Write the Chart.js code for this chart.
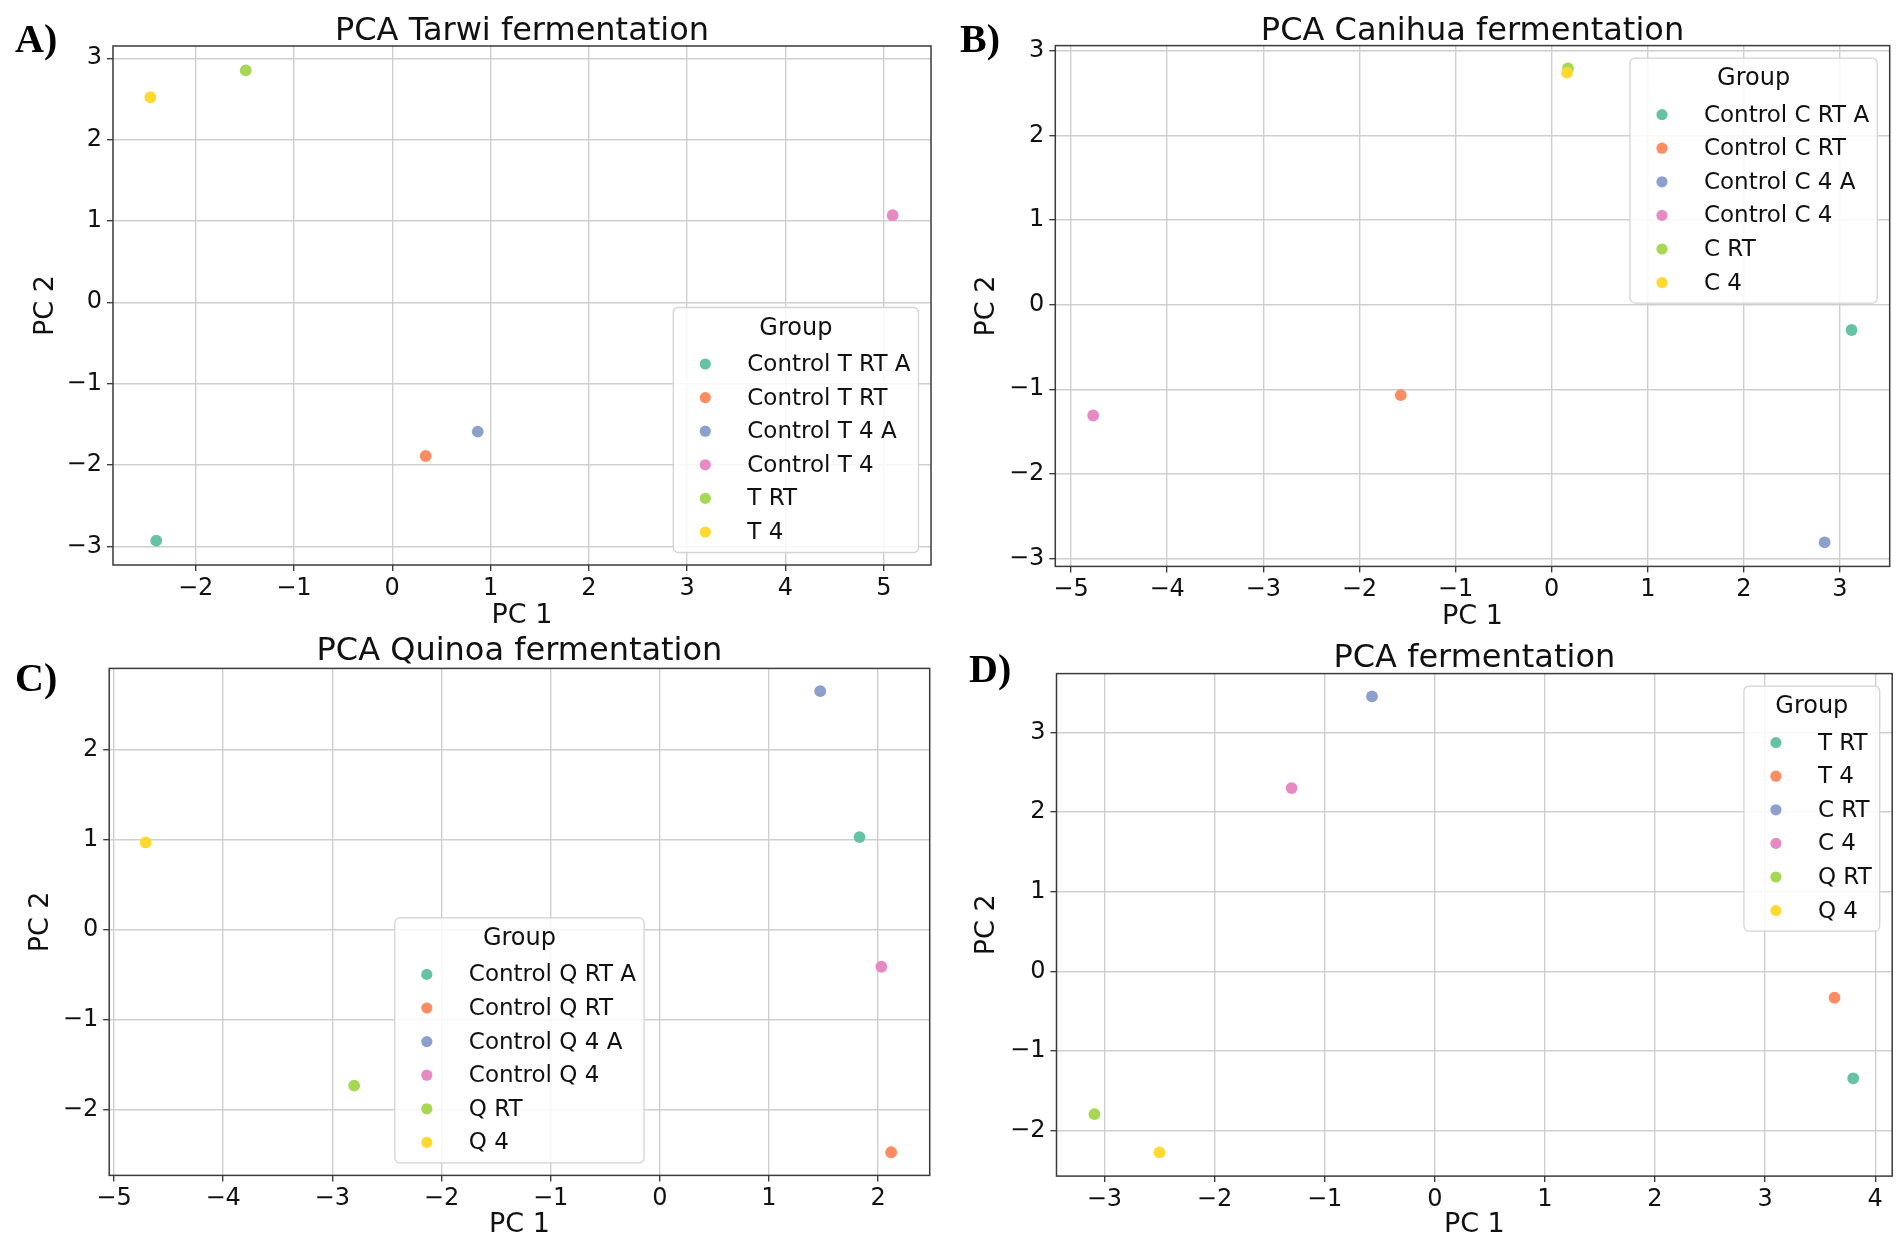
<!DOCTYPE html>
<html>
<head>
<meta charset="utf-8">
<title>PCA fermentation</title>
<script src="https://cdn.jsdelivr.net/npm/chart.js@4.4.0/dist/chart.umd.min.js"></script>
<style>
    html, body { margin: 0; padding: 0; background: #fff; }
    body { width: 1902px; height: 1244px; position: relative; overflow: hidden; }
    canvas { position: absolute; }
</style>
</head>
<body>
<canvas id="chart-a" width="951" height="640" style="left:0px;top:0px"></canvas>
<canvas id="chart-b" width="951" height="640" style="left:951px;top:0px"></canvas>
<canvas id="chart-c" width="951" height="622" style="left:0px;top:622px"></canvas>
<canvas id="chart-d" width="951" height="622" style="left:951px;top:622px"></canvas>
<script>
// Set2 palette
const groupColors = ['#66c2a5', '#fc8d62', '#8da0cb', '#e78ac3', '#a6d854', '#ffd92f'];

// A) Tarwi
const tarwiGroups = ['Control T RT A', 'Control T RT', 'Control T 4 A', 'Control T 4', 'T RT', 'T 4'];
const tarwiPC1 = [-2.40, 0.34, 0.87, 5.09, -1.49, -2.46];
const tarwiPC2 = [-2.93, -1.89, -1.59, 1.07, 2.85, 2.52];
const tarwiXTicks = [-2, -1, 0, 1, 2, 3, 4, 5];
const tarwiYTicks = [-3, -2, -1, 0, 1, 2, 3];

// B) Canihua
const canihuaGroups = ['Control C RT A', 'Control C RT', 'Control C 4 A', 'Control C 4', 'C RT', 'C 4'];
const canihuaPC1 = [3.12, -1.57, 2.84, -4.77, 0.17, 0.16];
const canihuaPC2 = [-0.30, -1.07, -2.81, -1.31, 2.79, 2.74];
const canihuaXTicks = [-5, -4, -3, -2, -1, 0, 1, 2, 3];
const canihuaYTicks = [-3, -2, -1, 0, 1, 2, 3];

// C) Quinoa
const quinoaGroups = ['Control Q RT A', 'Control Q RT', 'Control Q 4 A', 'Control Q 4', 'Q RT', 'Q 4'];
const quinoaPC1 = [1.83, 2.12, 1.47, 2.03, -2.80, -4.71];
const quinoaPC2 = [1.03, -2.47, 2.65, -0.41, -1.73, 0.97];
const quinoaXTicks = [-5, -4, -3, -2, -1, 0, 1, 2];
const quinoaYTicks = [-2, -1, 0, 1, 2];

// D) all fermentations
const allGroups = ['T RT', 'T 4', 'C RT', 'C 4', 'Q RT', 'Q 4'];
const allPC1 = [3.80, 3.63, -0.57, -1.30, -3.09, -2.50];
const allPC2 = [-1.34, -0.33, 3.45, 2.30, -1.79, -2.27];
const allXTicks = [-3, -2, -1, 0, 1, 2, 3, 4];
const allYTicks = [-2, -1, 0, 1, 2, 3];

const FONT = 'DejaVu Sans';
const TEXT = '#111';

// Format tick with a real minus sign like matplotlib
function fmtTick(v) {
    return String(v).replace('-', '\u2212');
}

// Draws frame, legend box, title and panel letter
const panelDecor = {
    id: 'panelDecor',
    afterDatasetsDraw(chart, args, opts) {
        const ctx = chart.ctx;
        const a = chart.chartArea;
        ctx.save();

        // frame on all four sides
        ctx.strokeStyle = '#3a3a3a';
        ctx.lineWidth = 1.5;
        ctx.strokeRect(a.left, a.top, a.right - a.left, a.bottom - a.top);

        // legend
        const sets = chart.data.datasets;
        ctx.font = `23px ${FONT}`;
        const maxW = Math.max(...sets.map(d => ctx.measureText(d.label).width));
        const w = 74 + maxW + 8;
        const h = 245;
        const inset = 12.5;
        let x;
        if (opts.legend.includes('right')) x = a.right - inset - w;
        else if (opts.legend.includes('center')) x = (a.left + a.right - w) / 2;
        else x = a.left + inset;
        const y = opts.legend.startsWith('lower') ? a.bottom - inset - h : a.top + inset;

        ctx.beginPath();
        if (ctx.roundRect) ctx.roundRect(x, y, w, h, 5);
        else ctx.rect(x, y, w, h);
        ctx.fillStyle = 'rgba(255,255,255,0.85)';
        ctx.fill();
        ctx.strokeStyle = '#d4d4d4';
        ctx.lineWidth = 1.3;
        ctx.stroke();

        ctx.fillStyle = TEXT;
        ctx.textBaseline = 'middle';
        ctx.textAlign = 'center';
        ctx.font = `24px ${FONT}`;
        ctx.fillText('Group', x + w / 2, y + 21);

        ctx.textAlign = 'left';
        ctx.font = `23px ${FONT}`;
        sets.forEach((d, i) => {
            const ry = y + 56.5 + i * 33.6;
            ctx.beginPath();
            ctx.arc(x + 32, ry, 5.6, 0, Math.PI * 2);
            ctx.fillStyle = d.backgroundColor;
            ctx.fill();
            ctx.fillStyle = TEXT;
            ctx.fillText(d.label, x + 74, ry + 1);
        });

        // title
        ctx.textBaseline = 'alphabetic';
        ctx.textAlign = 'center';
        ctx.font = `32px ${FONT}`;
        ctx.fillText(opts.title, (a.left + a.right) / 2, opts.titleY);

        // panel letter
        ctx.textAlign = 'left';
        ctx.fillStyle = '#000';
        ctx.font = 'bold 40px "Liberation Serif"';
        ctx.fillText(opts.letter, opts.letterX, opts.letterY);

        ctx.restore();
    }
};

function makePanel(canvasId, cfg) {
    const canvas = document.getElementById(canvasId);
    const W = canvas.width;
    const H = canvas.height;
    const axisFont = { family: FONT, size: 27 };
    const half = axisFont.size * 1.2 / 2;

    const datasets = cfg.groups.map((g, i) => ({
        label: g,
        data: [{ x: cfg.pc1[i], y: cfg.pc2[i] }],
        backgroundColor: groupColors[i],
        borderColor: groupColors[i],
        borderWidth: 0,
        pointRadius: 5.9,
        pointHoverRadius: 5.9,
        order: cfg.groups.length - i
    }));

    const grid = {
        color: '#cfcfcf',
        lineWidth: 1.4,
        tickColor: '#333',
        tickLength: 6,
        tickWidth: 1.3
    };

    return new Chart(canvas, {
        type: 'scatter',
        data: { datasets },
        options: {
            responsive: false,
            animation: false,
            events: [],
            layout: {
                padding: { top: cfg.area.top, right: W - cfg.area.right, bottom: 0, left: 0 }
            },
            scales: {
                x: {
                    type: 'linear',
                    min: cfg.xRange[0],
                    max: cfg.xRange[1],
                    afterFit: s => { s.height = H - cfg.area.bottom; },
                    afterBuildTicks: s => { s.ticks = cfg.xTicks.map(v => ({ value: v })); },
                    ticks: {
                        autoSkip: false,
                        maxRotation: 0,
                        padding: 3,
                        color: TEXT,
                        font: { family: FONT, size: 24 },
                        callback: v => fmtTick(v)
                    },
                    grid,
                    border: { display: false },
                    title: {
                        display: true,
                        text: 'PC 1',
                        color: TEXT,
                        font: axisFont,
                        padding: { top: 0, bottom: H - cfg.xLabelY - half }
                    }
                },
                y: {
                    type: 'linear',
                    min: cfg.yRange[0],
                    max: cfg.yRange[1],
                    afterFit: s => { s.width = cfg.area.left; },
                    afterBuildTicks: s => { s.ticks = cfg.yTicks.map(v => ({ value: v })); },
                    ticks: {
                        autoSkip: false,
                        padding: 5,
                        color: TEXT,
                        font: { family: FONT, size: 24 },
                        callback: v => fmtTick(v)
                    },
                    grid,
                    border: { display: false },
                    title: {
                        display: true,
                        text: 'PC 2',
                        color: TEXT,
                        font: axisFont,
                        padding: { top: cfg.yLabelX - half, bottom: 0 }
                    }
                }
            },
            plugins: {
                legend: { display: false },
                tooltip: { enabled: false },
                panelDecor: {
                    title: cfg.title,
                    titleY: cfg.titleY,
                    letter: cfg.letter,
                    letterX: cfg.letterX,
                    letterY: cfg.letterY,
                    legend: cfg.legend
                }
            }
        },
        plugins: [panelDecor]
    });
}

makePanel('chart-a', {
    groups: tarwiGroups, pc1: tarwiPC1, pc2: tarwiPC2,
    xTicks: tarwiXTicks, yTicks: tarwiYTicks,
    xRange: [-2.84, 5.48], yRange: [-3.23, 3.15],
    area: { left: 113, top: 46, right: 931, bottom: 565 },
    title: 'PCA Tarwi fermentation', titleY: 40,
    letter: 'A)', letterX: 15, letterY: 52,
    yLabelX: 45.5, xLabelY: 616, legend: 'lower right'
});

makePanel('chart-b', {
    groups: canihuaGroups, pc1: canihuaPC1, pc2: canihuaPC2,
    xTicks: canihuaXTicks, yTicks: canihuaYTicks,
    xRange: [-5.164, 3.517], yRange: [-3.093, 3.06],
    area: { left: 104.3, top: 45.6, right: 938.7, bottom: 566.4 },
    title: 'PCA Canihua fermentation', titleY: 40,
    letter: 'B)', letterX: 9, letterY: 52,
    yLabelX: 36.4, xLabelY: 617, legend: 'upper right'
});

makePanel('chart-c', {
    groups: quinoaGroups, pc1: quinoaPC1, pc2: quinoaPC2,
    xTicks: quinoaXTicks, yTicks: quinoaYTicks,
    xRange: [-5.044, 2.473], yRange: [-2.727, 2.903],
    area: { left: 109.2, top: 46.4, right: 929.7, bottom: 553.4 },
    title: 'PCA Quinoa fermentation', titleY: 38,
    letter: 'C)', letterX: 15, letterY: 69,
    yLabelX: 41, xLabelY: 603, legend: 'lower center'
});

makePanel('chart-d', {
    groups: allGroups, pc1: allPC1, pc2: allPC2,
    xTicks: allXTicks, yTicks: allYTicks,
    xRange: [-3.435, 4.154], yRange: [-2.567, 3.736],
    area: { left: 105.5, top: 51.6, right: 941.2, bottom: 554.1 },
    title: 'PCA fermentation', titleY: 45,
    letter: 'D)', letterX: 18, letterY: 60,
    yLabelX: 36.4, xLabelY: 603, legend: 'upper right'
});
</script>
</body>
</html>
